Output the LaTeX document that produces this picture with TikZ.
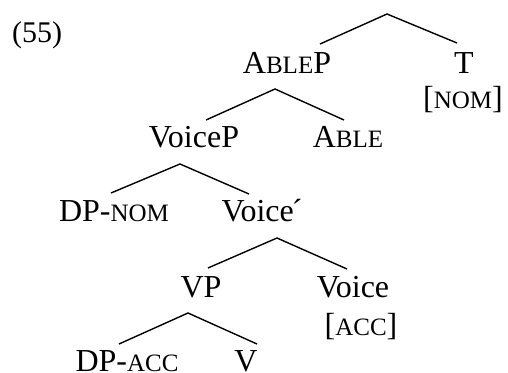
\documentclass[tikz,border=0pt]{standalone}
\usepackage{fontspec}
\setmainfont{Liberation Serif}
\newcommand\smallcap[1]{{\fontsize{25}{30}\selectfont #1}}
\begin{document}
\begin{tikzpicture}[x=1pt,y=-1pt,
  lab/.style={anchor=base,inner sep=0pt,font=\fontsize{32}{38}\selectfont},
  edge/.style={line width=1.4pt}]
\useasboundingbox (0,0) rectangle (508,372);
% example number
\node[lab,anchor=base west,font=\fontsize{30}{36}\selectfont] (num) at (12,42) {(55)};
% labels
\node[lab] (ablep) at (287,73) {A\smallcap{BLE}P};
\node[lab] (t) at (464,73) {T};
\node[lab] (nom) at (463,108) {[\smallcap{NOM}]};
\node[lab] (voicep) at (194,147) {VoiceP};
\node[lab] (able) at (348,147) {A\smallcap{BLE}};
\node[lab] (dpnom) at (114,221) {DP-\smallcap{NOM}};
\node[lab] (voicebar) at (262,221) {Voice\kern-2pt´};
\node[lab] (vp) at (201,297) {VP};
\node[lab] (voice) at (353,297) {Voice};
\node[lab] (acc) at (361,335) {[\smallcap{ACC}]};
\node[lab] (dpacc) at (127,371) {DP-\smallcap{ACC}};
\node[lab] (v) at (246,371) {V};
% branch points and leg ends
\coordinate (r0) at (387,14);  \coordinate (r1) at (320,44);  \coordinate (r2) at (457,43);
\coordinate (a0) at (275,89);  \coordinate (a1) at (206,120); \coordinate (a2) at (344,120);
\coordinate (b0) at (180,164); \coordinate (b1) at (111,193); \coordinate (b2) at (249,194);
\coordinate (c0) at (277,238); \coordinate (c1) at (208,268); \coordinate (c2) at (347,269);
\coordinate (d0) at (188,313); \coordinate (d1) at (119,344); \coordinate (d2) at (257,344);
% branches
\draw[edge] (r1) -- (r0) -- (r2);
\draw[edge] (a1) -- (a0) -- (a2);
\draw[edge] (b1) -- (b0) -- (b2);
\draw[edge] (c1) -- (c0) -- (c2);
\draw[edge] (d1) -- (d0) -- (d2);
\end{tikzpicture}
\end{document}
